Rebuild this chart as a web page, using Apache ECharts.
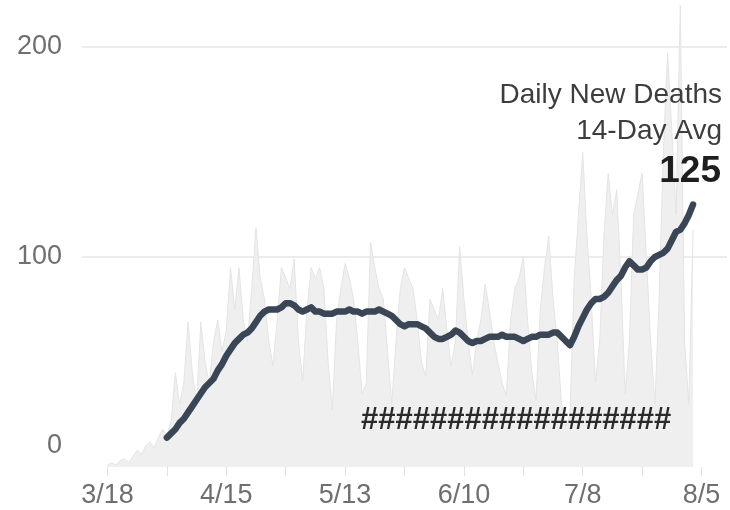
<!DOCTYPE html>
<html>
<head>
<meta charset="utf-8">
<style>
  html, body { margin: 0; padding: 0; background: #ffffff; }
  #chart { width: 730px; height: 510px; }
</style>
<script src="https://cdn.jsdelivr.net/npm/echarts@6/dist/echarts.min.js"></script>
</head>
<body>
<div id="chart"></div>
<script>
// Day index 0 = 3/18
const dailyStartDay = 0;
const avgStartDay = 14;

const dailyDeaths = [
  1, 2, 1, 3, 4, 2, 5, 8, 6, 10,
  12, 9, 14, 18, 15, 22, 45, 30, 40, 69,
  45, 30, 69, 50, 40, 60, 70, 55, 65, 95,
  75, 95, 70, 60, 85, 114, 90, 80, 60, 48,
  70, 95, 90, 85, 99, 60, 41, 75, 95, 90,
  95, 85, 50, 27, 70, 85, 97, 90, 80, 60,
  35, 40, 107, 95, 85, 80, 55, 30, 60, 85,
  95, 90, 85, 70, 50, 43, 80, 75, 70, 85,
  65, 48, 60, 105, 80, 60, 44, 60, 70, 87,
  75, 60, 50, 40, 34, 70, 85, 90, 100, 70,
  45, 32, 75, 95, 110, 80, 60, 30, 19, 25,
  90, 120, 150, 110, 80, 40, 60, 110, 140, 120,
  132, 90, 35, 60, 120, 130, 140, 100, 60, 30,
  80, 150, 197, 160, 120, 220, 60, 30, 113
];

const avg14 = [
  14, 16, 18, 21, 23, 26, 29, 32, 35, 38,
  40, 42, 46, 49, 53, 56, 59, 61, 63, 64,
  66, 69, 72, 74, 75, 75, 75, 76, 78, 78,
  77, 75, 74, 75, 76, 74, 74, 73, 73, 73,
  74, 74, 74, 75, 74, 74, 73, 74, 74, 74,
  75, 74, 73, 72, 70, 68, 67, 68, 68, 68,
  67, 66, 64, 62, 61, 61, 62, 63, 65, 64,
  62, 60, 59, 60, 60, 61, 62, 62, 62, 63,
  62, 62, 62, 61, 60, 61, 62, 62, 63, 63,
  63, 64, 64, 62, 60, 58, 62, 67, 71, 75,
  78, 80, 80, 81, 83, 86, 89, 91, 95, 98,
  96, 94, 94, 95, 98, 100, 101, 102, 104, 108,
  112, 113, 116, 120, 125
];

const xTickDays = [0, 14, 28, 42, 56, 70, 84, 98, 112, 126, 140];
const xLabelDays = [0, 28, 56, 84, 112, 140];
const xLabels = ['3/18', '4/15', '5/13', '6/10', '7/8', '8/5'];
const yTicks = [0, 100, 200];

const titleLines = ['Daily New Deaths', '14-Day Avg'];
const latestAvgLabel = '125';
const placeholderText = '##################';

const FONT = "'Liberation Sans', Arial, Helvetica, sans-serif";

const dailyData = dailyDeaths.map((v, i) => [dailyStartDay + i, v]);
const avgData = avg14.map((v, i) => [avgStartDay + i, v]);

const chart = echarts.init(document.getElementById('chart'), null, { renderer: 'canvas' });

chart.setOption({
  animation: false,
  backgroundColor: '#ffffff',
  grid: { left: 82, right: 3, top: 5, bottom: 43, containLabel: false },
  xAxis: {
    type: 'value',
    min: -6,
    max: 146,
    axisLine: { show: false },
    splitLine: { show: false },
    axisTick: {
      show: true,
      customValues: xTickDays,
      length: 9,
      lineStyle: { color: '#e2e2e2', width: 1 }
    },
    axisLabel: {
      customValues: xLabelDays,
      formatter: function (v) {
        const idx = xLabelDays.indexOf(v);
        return idx >= 0 ? xLabels[idx] : '';
      },
      color: '#6f6f6f',
      fontSize: 27,
      fontFamily: FONT,
      margin: 15
    }
  },
  yAxis: {
    type: 'value',
    min: 0,
    max: 220,
    interval: 100,
    axisLine: { show: false },
    axisTick: { show: false },
    splitLine: {
      show: true,
      showMinLine: false,
      showMaxLine: false,
      lineStyle: { color: '#e6e6e6', width: 1.5 }
    },
    axisLabel: {
      showMaxLabel: false,
      formatter: function (v) {
        if (yTicks.indexOf(v) < 0) return '';
        if (v === 0) return '{z|0}';
        return String(v);
      },
      color: '#6f6f6f',
      fontSize: 27,
      fontFamily: FONT,
      margin: 20,
      rich: {
        z: { fontSize: 27, fontFamily: FONT, color: '#6f6f6f', padding: [0, 0, 42, 0] }
      }
    }
  },
  series: [
    {
      type: 'line',
      data: dailyData,
      symbol: 'none',
      smooth: false,
      lineStyle: { color: '#e4e4e4', width: 1 },
      areaStyle: { color: '#efefef', opacity: 1 },
      z: 1
    },
    {
      type: 'line',
      data: avgData,
      symbol: 'none',
      smooth: false,
      lineStyle: { color: '#3a4656', width: 6.5, cap: 'round', join: 'round' },
      z: 3
    }
  ],
  graphic: [
    {
      type: 'text',
      right: 8,
      top: 81,
      z: 100,
      style: { text: titleLines[0], fill: '#3d3d3d', fontSize: 28, fontFamily: FONT, textAlign: 'right' }
    },
    {
      type: 'text',
      right: 8,
      top: 117,
      z: 100,
      style: { text: titleLines[1], fill: '#3d3d3d', fontSize: 28, fontFamily: FONT, textAlign: 'right' }
    },
    {
      type: 'text',
      right: 9,
      top: 153,
      z: 100,
      style: { text: latestAvgLabel, fill: '#1e1e1e', fontSize: 37, fontWeight: 'bold', fontFamily: FONT, textAlign: 'right' }
    },
    {
      type: 'text',
      left: 361,
      top: 405,
      z: 100,
      style: { text: placeholderText, fill: '#2a2a2a', fontSize: 31, fontWeight: 'bold', fontFamily: FONT }
    }
  ]
});
</script>
</body>
</html>
